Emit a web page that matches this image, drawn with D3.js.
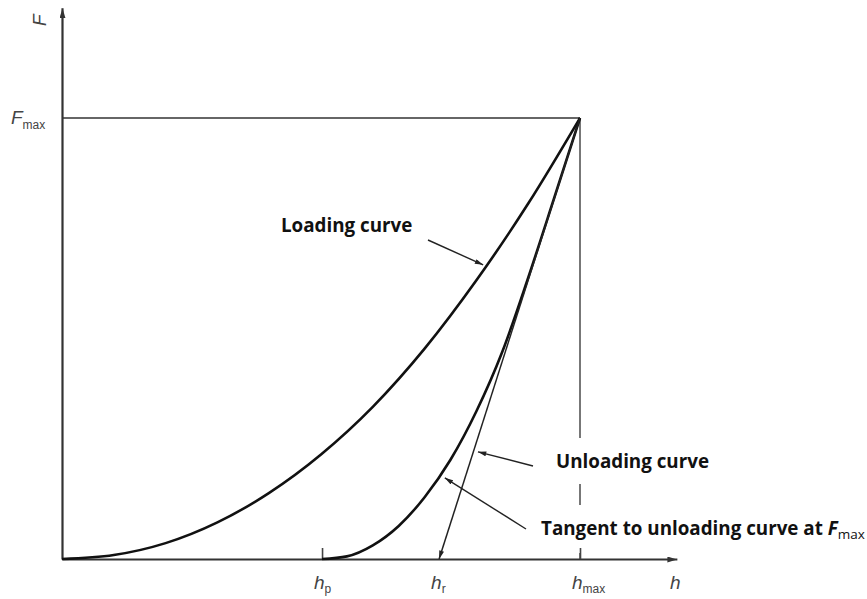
<!DOCTYPE html>
<html>
<head>
<meta charset="utf-8">
<script src="https://cdn.jsdelivr.net/npm/d3@7"></script>
<style>
  body { margin: 0; background: #fff; }
  .lbl { font-family: "Liberation Sans", Arial, sans-serif; font-style: italic; fill: #444; }
  .note { font-family: "Open Sans", sans-serif; font-weight: 700; fill: #111; }
</style>
</head>
<body>
<svg width="867" height="599"></svg>
<script>
// values, h and F scaled so that hmax = 1 and Fmax = 1
const loadH = [0, 0.1, 0.2, 0.3, 0.4, 0.5, 0.6, 0.7, 0.8, 0.9, 1];
const loadF = [0, 0.009, 0.036, 0.083, 0.15, 0.237, 0.345, 0.477, 0.632, 0.806, 1];
const unloadH = [0.502, 0.55, 0.6, 0.65, 0.7, 0.75, 0.8, 0.85, 0.9, 0.95, 1];
const unloadF = [0, 0.006, 0.031, 0.075, 0.14, 0.225, 0.335, 0.47, 0.638, 0.818, 1];
const tangentH = [1, 0.728];
const tangentF = [1, 0];
const tickH = [0.502, 0.728, 1];
const tickSubs = ["p", "r", "max"];
const hMax = 1, fMax = 1;

const svg = d3.select("svg");
const x = d3.scaleLinear().domain([0, 1]).range([62, 580]);
const y = d3.scaleLinear().domain([0, 1]).range([559, 118]);

const defs = svg.append("defs");
defs.append("marker").attr("id", "axArrow")
    .attr("viewBox", "0 0 10 6").attr("refX", 10).attr("refY", 3)
    .attr("markerWidth", 10).attr("markerHeight", 6)
    .attr("markerUnits", "userSpaceOnUse").attr("orient", "auto")
  .append("path").attr("d", "M0,0L10,3L0,6Z").attr("fill", "#333");
defs.append("marker").attr("id", "smArrow")
    .attr("viewBox", "0 0 10 6").attr("refX", 10).attr("refY", 3)
    .attr("markerWidth", 9).attr("markerHeight", 5)
    .attr("markerUnits", "userSpaceOnUse").attr("orient", "auto")
  .append("path").attr("d", "M0,0L10,3L0,6Z").attr("fill", "#222");

// Fmax guide lines
svg.append("line")
    .attr("x1", x(0)).attr("x2", x(hMax))
    .attr("y1", y(fMax)).attr("y2", y(fMax))
    .attr("stroke", "#333").attr("stroke-width", 1.6);
svg.append("line")
    .attr("x1", x(hMax)).attr("x2", x(hMax))
    .attr("y1", y(fMax)).attr("y2", y(0))
    .attr("stroke", "#555").attr("stroke-width", 1.6);

// annotation texts (white box hides the vertical guide behind them)
const notes = [
  {text: "Loading curve", x: 281, y: 232, tip: [0.813, 0.667], from: [428, 240]},
  {text: "Unloading curve", x: 556, y: 468, tip: [0.803, 0.243], from: [533, 466]},
  {text: "Tangent to unloading curve at ", x: 541, y: 535, tip: [0.739, 0.184], from: [526, 529], sub: true}
];
notes.forEach(n => {
  const t = svg.append("text").attr("class", "note")
      .attr("x", n.x).attr("y", n.y).style("font-size", "18.8px").text(n.text);
  if (n.sub) {
    t.append("tspan").style("font-style", "italic").text("F");
    t.append("tspan").attr("dy", 4).style("font-weight", 400).style("font-size", "13.5px").text("max");
  }
  const b = t.node().getBBox();
  svg.insert("rect", "text.note")
      .attr("x", b.x).attr("y", b.y - 10)
      .attr("width", b.width).attr("height", b.height + 20)
      .attr("fill", "#fff");
  svg.append("line")
      .attr("x1", n.from[0]).attr("y1", n.from[1])
      .attr("x2", x(n.tip[0])).attr("y2", y(n.tip[1]))
      .attr("stroke", "#222").attr("stroke-width", 1.4)
      .attr("marker-end", "url(#smArrow)");
});

// axes
const xAxis = svg.append("g")
    .attr("transform", `translate(0,${y(0)})`)
    .call(d3.axisBottom(d3.scaleLinear().domain([0, 1.187]).range([x(0), x(1.187)]))
        .tickValues([tickH[0], tickH[2]]).tickSizeInner(-11).tickSizeOuter(0).tickFormat(""));
xAxis.select(".domain").attr("stroke", "#333").attr("stroke-width", 2.2)
    .attr("marker-end", "url(#axArrow)");
xAxis.selectAll(".tick line").attr("stroke", "#444").attr("stroke-width", 1.6);

const yAxis = svg.append("g")
    .attr("transform", `translate(${x(0)},0)`)
    .call(d3.axisLeft(d3.scaleLinear().domain([0, 1.25]).range([y(0), y(1.25)]))
        .tickValues([]).tickSizeOuter(0));
yAxis.select(".domain").attr("stroke", "#333").attr("stroke-width", 2.2)
    .attr("marker-end", "url(#axArrow)");

// curves
const line = d3.line().x(d => x(d[0])).y(d => y(d[1])).curve(d3.curveMonotoneX);
svg.append("path").datum(loadH.map((h, i) => [h, loadF[i]]))
    .attr("d", line).attr("fill", "none").attr("stroke", "#111").attr("stroke-width", 2.6);
svg.append("path").datum(unloadH.map((h, i) => [h, unloadF[i]]))
    .attr("d", line).attr("fill", "none").attr("stroke", "#111").attr("stroke-width", 2.6);
svg.append("line")
    .attr("x1", x(tangentH[0])).attr("y1", y(tangentF[0]))
    .attr("x2", x(tangentH[1])).attr("y2", y(tangentF[1]))
    .attr("stroke", "#222").attr("stroke-width", 1.5)
    .attr("marker-end", "url(#smArrow)");

// axis labels
tickH.forEach((h, i) => {
  const t = svg.append("text").attr("class", "lbl")
      .attr("x", x(h) - 8).attr("y", 589).style("font-size", "19px").text("h");
  t.append("tspan").attr("dy", 4).style("font-style", "normal").style("font-size", "12px").text(tickSubs[i]);
});
svg.append("text").attr("class", "lbl")
    .attr("x", 670).attr("y", 589).style("font-size", "19px").text("h");
const fm = svg.append("text").attr("class", "lbl")
    .attr("x", 11).attr("y", 124).style("font-size", "19px").text("F");
fm.append("tspan").attr("dy", 5).style("font-style", "normal").style("font-size", "12px").text("max");
svg.append("text").attr("class", "lbl")
    .attr("transform", "translate(46,26) rotate(-90)")
    .style("font-size", "19px").text("F");
</script>
</body>
</html>
